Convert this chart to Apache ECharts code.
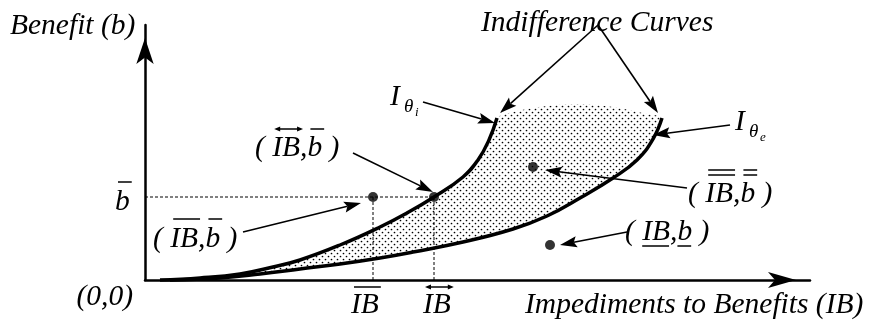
<!DOCTYPE html>
<html>
<head>
<meta charset="utf-8">
<script src="https://cdn.jsdelivr.net/npm/echarts@6/dist/echarts.min.js"></script>
<style>
html, body { margin: 0; padding: 0; background: #fff; }
#chart { width: 869px; height: 321px; }
</style>
</head>
<body>
<div id="chart"></div>
<script>
// data units: x = impediments to benefits (IB), y = benefit (b)
const xMax = 665;
const yMax = 255;

// indifference curve I_theta_i (steeper one)
const curveInner = [[15,0],[55,2],[95,6],[128,13],[155,20],[195,35],[235,53],[262,67],[289,83],[318,103],[333,120],[344,140],[352,162]];
// indifference curve I_theta_e
const curveOuter = [[25,0],[75,2],[115,6],[155,11],[195,16],[235,22],[268,28],[318,38],[368,51],[402,64],[435,82],[468,102],[492,120],[508,141],[517,162]];
// upper edge of the shaded set between the curve tops
const shadeTop = [[352,162],[368,168],[402,174],[435,176],[468,173],[502,166],[517,162]];

const ibBar = 228;
const ibArrow = 289;
const bBar = 83;
const points = [[ibBar,bBar],[ibArrow,bBar],[388,113],[405,35]];

// annotation arrows: [from x, from y, to x, to y]
const arrows = [
  [453,255,355,167],
  [453,255,513,167],
  [278,178,350,157],
  [585,155,508,145],
  [208,127,288,88],
  [98,48,216,77],
  [542,92,400,110],
  [482,48,415,35]
];

const FONT = 'italic 29.5px "Liberation Serif", "Times New Roman", serif';
const mctx = document.createElement('canvas').getContext('2d');
function measure(s, font) { mctx.font = font; return mctx.measureText(s); }

// text layout (pixels)
const texts = [
  {x: 10, base: 36, parts: [['Benefit (b)']]},
  {x: 481, base: 33, parts: [['Indifference Curves']]},
  {x: 525, base: 315, parts: [['Impediments to Benefits (IB)']]},
  {xr: 133, base: 307, parts: [['(0,0)']]},
  {x: 115, base: 212, deco: 182, parts: [['b','over']]},
  {x: 351, base: 315, deco: 287, parts: [['IB','over']]},
  {x: 423, base: 315, deco: 287, parts: [['IB','arrow']]},
  {x: 153, base: 249, deco: 219, parts: [['( '],['IB','over'],[','],['b','over'],[' )']]},
  {x: 255, base: 158, deco: 129, parts: [['( '],['IB','arrow'],[','],['b','over'],[' )']]},
  {x: 688, base: 204, deco: 170, parts: [['( '],['IB','over2'],[','],['b','over2'],[' )']]},
  {x: 625, base: 242, deco: 246, parts: [['( '],['IB','under'],[','],['b','under'],[' )']]}
];
const subs = [
  {x: 390, base: 107, main: 'I', sub: '\u03b8', subsub: 'i'},
  {x: 735, base: 132, main: 'I', sub: '\u03b8', subsub: 'e'}
];

function hline(x1, x2, y) {
  return {type: 'line', shape: {x1: x1, y1: y, x2: x2, y2: y}, style: {stroke: '#000', lineWidth: 1.5}};
}
function txt(s, x, base, font) {
  const m = measure('Hg', font);
  const off = (m.fontBoundingBoxAscent - m.fontBoundingBoxDescent) / 2;
  return {type: 'text', style: {text: s, x: x, y: base - off, font: font, fill: '#000', align: 'left', verticalAlign: 'middle'}};
}

const graphics = [];
texts.forEach(function (t) {
  let total = 0;
  t.parts.forEach(function (p) { total += measure(p[0], FONT).width; });
  let cx = t.xr != null ? t.xr - total : t.x;
  t.parts.forEach(function (p) {
    const w = measure(p[0], FONT).width;
    graphics.push(txt(p[0], cx, t.base, FONT));
    const d = p[1];
    if (d === 'over') graphics.push(hline(cx + 3, cx + w + 2, t.deco));
    if (d === 'over2') { graphics.push(hline(cx + 3, cx + w + 2, t.deco)); graphics.push(hline(cx + 3, cx + w + 2, t.deco + 5)); }
    if (d === 'under') graphics.push(hline(cx, cx + w - 1, t.deco));
    if (d === 'arrow') {
      const a = cx + 2, b = cx + w + 3, y = t.deco;
      graphics.push(hline(a + 3, b - 3, y));
      graphics.push({type: 'polygon', shape: {points: [[a, y], [a + 6, y - 2.5], [a + 6, y + 2.5]]}, style: {fill: '#000'}});
      graphics.push({type: 'polygon', shape: {points: [[b, y], [b - 6, y - 2.5], [b - 6, y + 2.5]]}, style: {fill: '#000'}});
    }
    cx += w;
  });
});
subs.forEach(function (s) {
  const f1 = 'italic 19px "Liberation Serif", serif';
  const f2 = 'italic 13px "Liberation Serif", serif';
  graphics.push(txt(s.main, s.x, s.base, FONT));
  graphics.push(txt(s.sub, s.x + 14, s.base + 6, f1));
  graphics.push(txt(s.subsub, s.x + 25, s.base + 10, f2));
});

// stipple pattern for the shaded set
const dots = document.createElement('canvas');
dots.width = 6; dots.height = 6;
const dc = dots.getContext('2d');
dc.fillStyle = '#000';
dc.beginPath(); dc.arc(1.5, 1.5, 0.85, 0, Math.PI * 2); dc.fill();
dc.beginPath(); dc.arc(4.5, 4.5, 0.85, 0, Math.PI * 2); dc.fill();

const region = curveInner.concat(shadeTop.slice(1, -1), curveOuter.slice().reverse());

function dashed(data) {
  return {type: 'line', data: data, showSymbol: false, silent: true, z: 2,
    lineStyle: {color: '#000', width: 1, type: [3, 2]}};
}
// smooth curve drawn through the axis scales
function curve(data) {
  return {
    type: 'custom', silent: true, z: 3, clip: false,
    data: data,
    renderItem: function (params, api) {
      if (params.dataIndex !== 0) return null;
      return {type: 'polyline', shape: {points: data.map(function (p) { return api.coord(p); }), smooth: 0.45},
        style: {stroke: '#000', lineWidth: 3.5, fill: null, lineJoin: 'round'}};
    }
  };
}

const chart = echarts.init(document.getElementById('chart'));
chart.setOption({
  animation: false,
  grid: {left: 145, top: 25, width: 665, height: 255},
  xAxis: {
    type: 'value', min: 0, max: xMax,
    axisLine: {onZero: false, symbol: ['none', 'arrow'], symbolSize: [12, 28], symbolOffset: [0, -14], lineStyle: {color: '#000', width: 2.5}},
    axisTick: {show: false}, axisLabel: {show: false}, splitLine: {show: false}
  },
  yAxis: {
    type: 'value', min: 0, max: yMax,
    axisLine: {show: true, onZero: false, symbol: ['none', 'arrow'], symbolSize: [13, 26], symbolOffset: [0, -13], lineStyle: {color: '#000', width: 2.5}},
    axisTick: {show: false}, axisLabel: {show: false}, splitLine: {show: false}
  },
  series: [
    {
      type: 'custom', silent: true, z: 1, clip: false,
      data: [0],
      renderItem: function (params, api) {
        return {type: 'polygon', shape: {points: region.map(function (p) { return api.coord(p); }), smooth: 0.3},
          style: {fill: {image: dots, repeat: 'repeat'}}};
      }
    },
    dashed([[0, bBar], [ibArrow, bBar]]),
    dashed([[ibBar, 0], [ibBar, bBar]]),
    dashed([[ibArrow, 0], [ibArrow, bBar]]),
    curve(curveInner),
    curve(curveOuter),
    {type: 'scatter', data: points, symbolSize: 10, silent: true, z: 4, itemStyle: {color: '#000'}},
    {
      type: 'custom', silent: true, z: 4, clip: false,
      data: arrows,
      encode: {x: [0, 2], y: [1, 3]},
      renderItem: function (params, api) {
        const a = api.coord([api.value(0), api.value(1)]);
        const b = api.coord([api.value(2), api.value(3)]);
        const dx = b[0] - a[0], dy = b[1] - a[1];
        const len = Math.hypot(dx, dy), ux = dx / len, uy = dy / len;
        const L = 17, W = 5.5;
        const bx = b[0] - ux * L, by = b[1] - uy * L;
        return {type: 'group', children: [
          {type: 'line', shape: {x1: a[0], y1: a[1], x2: bx + ux * 3, y2: by + uy * 3}, style: {stroke: '#000', lineWidth: 1.6}},
          {type: 'polygon', shape: {points: [[b[0], b[1]], [bx - uy * W, by + ux * W], [bx + ux * 3, by + uy * 3], [bx + uy * W, by - ux * W]]}, style: {fill: '#000'}}
        ]};
      }
    }
  ],
  graphic: graphics
});
</script>
</body>
</html>
